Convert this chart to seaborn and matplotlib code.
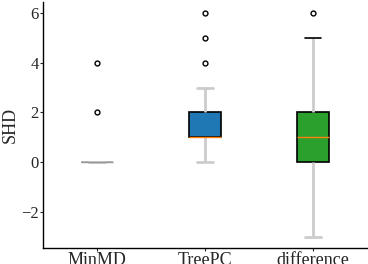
import pandas as pd
import matplotlib.pyplot as plt
import seaborn as sns

sns.set_theme(style="ticks")
plt.rcParams['font.family'] = ['Liberation Serif', 'DejaVu Serif']

# SHD values per method
minmd = [0] * 15 + [2, 4]
treepc = [0, 1, 1, 1, 1, 1, 1, 1, 1, 2, 2, 2, 2, 3, 4, 5, 6]
difference = [-3, -1, 0, 0, 0, 0, 1, 1, 1, 1, 2, 2, 2, 2, 3, 5, 6]
methods = ['MinMD', 'TreePC', 'difference']

df = pd.DataFrame({
    'method': ['MinMD'] * len(minmd) + ['TreePC'] * len(treepc) + ['difference'] * len(difference),
    'SHD': minmd + treepc + difference,
})

fig = plt.figure(figsize=(3.68, 2.64), dpi=100)
ax = fig.add_axes([0.117, 0.061, 0.88, 0.932])

sns.boxplot(data=df, x='method', y='SHD', hue='method', order=methods,
            palette=['#ff7f0e', '#1f77b4', '#2ca02c'], saturation=1, legend=False,
            width=0.3, linewidth=1.2, ax=ax,
            boxprops={'edgecolor': 'black'},
            medianprops={'color': '#ff7f0e', 'linewidth': 1},
            whiskerprops={'color': '#cccccc', 'linewidth': 2},
            capprops={'color': '#cccccc', 'linewidth': 2},
            flierprops={'marker': 'o', 'markersize': 3.5, 'markerfacecolor': 'white',
                        'markeredgecolor': 'black', 'markeredgewidth': 1})

# top cap of the difference box is dark in the original
caps = [l for l in ax.lines if l.get_color() == '#cccccc' and len(l.get_xdata()) == 2
        and l.get_xdata()[0] != l.get_xdata()[1]]
top_cap = max((l for l in caps if l.get_xdata()[0] > 1.5), key=lambda l: l.get_ydata()[0])
top_cap.set_color('black')
top_cap.set_linewidth(1.2)

# MinMD collapses to a grey line at zero
for l in ax.lines:
    xd = l.get_xdata()
    if len(xd) == 2 and xd[0] < 0.5 and xd[0] != xd[1] and l.get_color() == '#ff7f0e':
        l.set_color('#999999')
ax.patches[0].set_edgecolor('#aaaaaa')

ax.set_xlabel('')
ax.set_ylabel('SHD', fontsize=13, labelpad=2)
ax.set_yticks([-2, 0, 2, 4, 6])
ax.set_ylim(-3.45, 6.45)
ax.tick_params(axis='both', length=2, width=0.8, labelsize=12, pad=1)
ax.tick_params(axis='x', labelsize=13)
sns.despine(ax=ax)
for s in ['left', 'bottom']:
    ax.spines[s].set_color('black')
    ax.spines[s].set_linewidth(1)

plt.savefig('out.png', dpi=100)
